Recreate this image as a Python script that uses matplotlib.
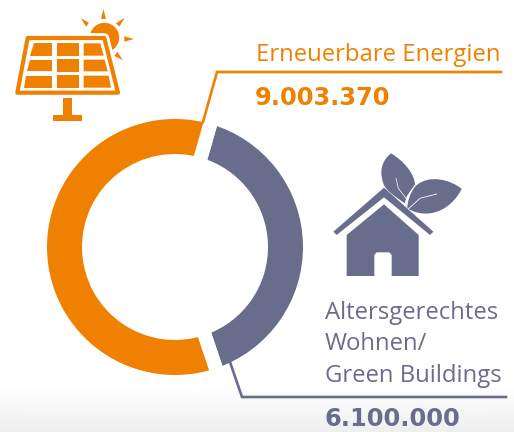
import numpy as np
import matplotlib
matplotlib.use("Agg")
import matplotlib.pyplot as plt
from matplotlib.patches import Polygon, Circle, PathPatch
from matplotlib.path import Path

categories = ["Altersgerechtes\nWohnen/\nGreen Buildings", "Erneuerbare Energien"]
values = [6100000, 9003370]
value_labels = ["6.100.000", "9.003.370"]
colors = ["#686D8C", "#F08000"]

W, H = 514, 432
fig = plt.figure(figsize=(W/100, H/100), dpi=100, facecolor="white")
ax = fig.add_axes([0, 0, 1, 1])
ax.set_xlim(0, W); ax.set_ylim(0, H)
FONT = "Open Sans"
ORANGE, SLATE = colors[1], colors[0]

def Y(y): return H - y
def P(pts): return [(x, Y(y)) for x, y in pts]

# bottom gradient
g = np.ones((H, 1))
start = 385
for i in range(start, H):
    g[i, 0] = 1 - 0.065 * (i - start) / (H - start)
ax.imshow(g, extent=(0, W, 0, H), origin="upper", cmap="gray", vmin=0, vmax=1,
          aspect="auto", zorder=0, interpolation="bilinear")

# donut
gap = 14
ax.pie(values, colors=colors, startangle=74, counterclock=False,
       center=(175, Y(247)), radius=128 + gap/2, frame=True,
       wedgeprops=dict(width=35 + gap, edgecolor="white", linewidth=gap*0.72, joinstyle="miter", zorder=2))
ax.set_xlim(0, W); ax.set_ylim(0, H); ax.set_aspect("auto")
ax.axis("off")

# leader lines
lw = 1.9
ax.plot(*zip(*P([(501, 72), (217, 72), (203, 122)])), color=ORANGE, lw=lw, zorder=3, solid_joinstyle="miter")
ax.plot(*zip(*P([(230, 362), (242, 397), (506, 397)])), color=SLATE, lw=lw, zorder=3, solid_joinstyle="miter")

# text
ax.text(256, Y(55), categories[1], color=ORANGE, fontsize=17.2, family=FONT, ha="left", va="center", zorder=5)
ax.text(255, Y(105), value_labels[1], color=ORANGE, fontsize=17.4, family="DejaVu Sans", weight="bold", ha="left", va="baseline", zorder=5)
for line, yy in zip(categories[0].split("\n"), (313, 344, 376)):
    ax.text(325, Y(yy), line, color=SLATE, fontsize=17.2, family=FONT, ha="left", va="center", zorder=5)
ax.text(324, Y(426), value_labels[0], color=SLATE, fontsize=17.4, family="DejaVu Sans", weight="bold", ha="left", va="baseline", zorder=5)

# solar icon (zoom coordinates / 3)
def Z(pts, ox=0, oy=0): return P([(ox + x/3, oy + y/3) for x, y in pts])
ax.add_patch(Circle((104.5, Y(37.5)), 14.7, color=ORANGE, zorder=3, lw=0))
for tri in ([(310,27),(303,57),(318,57)], [(243,55),(258,80),(267,68)], [(374,53),(348,70),(358,80)],
            [(402,117),(373,109),(373,125)], [(368,180),(352,155),(343,168)]):
    ax.add_patch(Polygon(Z(tri), closed=True, color=ORANGE, zorder=3, lw=0))
frame = Z([(83,114),(313,114),(354,278),(52,278)])
ax.add_patch(Polygon(frame, closed=True, fc="white", ec="white", lw=7, zorder=3.1, joinstyle="round"))
ax.add_patch(Polygon(frame, closed=True, fc="white", ec=ORANGE, lw=3, zorder=3.2, joinstyle="round"))
for cell in ([(103,130),(157,130),(157,167),(91,167)], [(171,130),(237,130),(237,167),(171,167)],
             [(251,130),(301,130),(311,167),(251,167)], [(91,179),(157,179),(157,214),(81,214)],
             [(171,177),(237,177),(237,215),(171,215)], [(251,179),(314,179),(323,214),(251,214)],
             [(79,227),(157,227),(157,263),(72,263)], [(171,225),(237,225),(237,263),(171,263)],
             [(251,227),(326,227),(333,263),(251,263)]):
    ax.add_patch(Polygon(Z(cell), closed=True, color=ORANGE, zorder=3.3, lw=0))
for rect in ([(190,295),(216,295),(216,346),(190,346)], [(159,345),(246,345),(246,363),(159,363)]):
    ax.add_patch(Polygon(Z(rect), closed=True, color=ORANGE, zorder=3.3, lw=0))

# house icon
ox, oy = 320, 140
ax.add_patch(Polygon(Z([(192,143),(40,275),(50,285),(192,172),(330,285),(340,275),(192,143)], ox, oy),
                     closed=True, color=SLATE, lw=0, zorder=3))
ax.add_patch(Polygon(Z([(192,193),(80,285),(80,408),(163,408),(163,345),(170,337),(208,337),(215,345),
                        (215,408),(296,408),(296,285)], ox, oy), closed=True, color=SLATE, lw=0, zorder=3))

def bez(pts):
    verts = Z(pts, ox, oy)
    codes = [Path.MOVETO] + [Path.CURVE4] * (len(verts) - 2) + [Path.CLOSEPOLY]
    return Path(verts, codes)

leaf1 = [(213,40),(255,65),(285,105),(285,135),(272,150),(258,170),(255,190),(225,170),(195,150),(190,130),
         (176,90),(188,60),(213,40),(213,40)]
leaf2 = [(425,147),(395,120),(325,100),(285,140),(270,160),(262,185),(262,205),(320,240),(390,215),(425,147),(425,147)]
ax.add_patch(PathPatch(bez(leaf1), fc=SLATE, ec="none", zorder=3))
ax.add_patch(PathPatch(bez(leaf2), fc=SLATE, ec="none", zorder=3.1))
ax.plot(*zip(*Z([(228,115),(235,145),(258,175)], ox, oy)), color="white", lw=0.5, zorder=3.4)
ax.plot(*zip(*Z([(265,207),(300,175),(350,162)], ox, oy)), color="white", lw=0.6, zorder=3.4)
ax.plot(*zip(*Z([(255,195),(262,170),(285,138)], ox, oy)), color="white", lw=0.9, zorder=3.05)

fig.savefig("out.png", dpi=100, facecolor="white")
